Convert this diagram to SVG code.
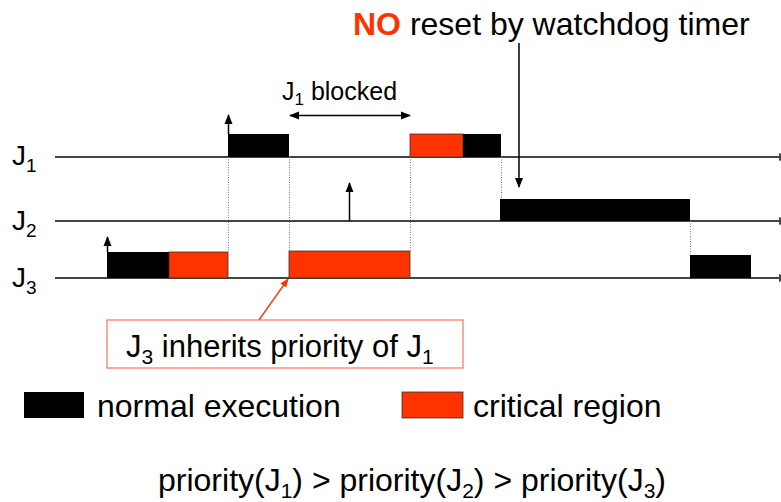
<svg xmlns="http://www.w3.org/2000/svg" width="781" height="502" viewBox="0 0 781 502">
<defs>
<style>
.t{font-family:"Liberation Sans",Arial,sans-serif;fill:#000}
.axis{stroke:#444;stroke-width:2}
.dot{stroke:#777;stroke-width:1;stroke-dasharray:1 1.5;fill:none}
.blk{fill:#000}
.red{fill:#ff3300;stroke:#333;stroke-width:0.8}
.arr{stroke:#000;stroke-width:1.5;fill:none}
</style>
<marker id="ah" viewBox="0 0 10 10" refX="9" refY="5" markerWidth="10" markerHeight="10" markerUnits="userSpaceOnUse" orient="auto">
<path d="M0,1 L10,5 L0,9 z" fill="#000"/>
</marker>
<marker id="ahs" viewBox="0 0 10 10" refX="1" refY="5" markerWidth="10" markerHeight="10" markerUnits="userSpaceOnUse" orient="auto">
<path d="M10,1 L0,5 L10,9 z" fill="#000"/>
</marker>
<marker id="ahr" viewBox="0 0 10 10" refX="9" refY="5" markerWidth="9" markerHeight="9" markerUnits="userSpaceOnUse" orient="auto">
<path d="M0,1 L10,5 L0,9 z" fill="#ff3300"/>
</marker>
</defs>
<rect width="781" height="502" fill="#fff"/>

<g id="axes">
<line class="axis" x1="55" y1="157" x2="781" y2="157"/>
<line class="axis" x1="55" y1="221" x2="781" y2="221"/>
<line class="axis" x1="55" y1="278" x2="781" y2="278"/>
<path d="M779,153 L789,157 L779,161 z M779,217 L789,221 L779,225 z M779,274 L789,278 L779,282 z" fill="#444"/>
</g>

<g id="labels">
<text class="t" x="12" y="165" font-size="28">J<tspan font-size="19" dy="7">1</tspan></text>
<text class="t" x="12" y="230" font-size="28">J<tspan font-size="19" dy="7">2</tspan></text>
<text class="t" x="12" y="287" font-size="28">J<tspan font-size="19" dy="7">3</tspan></text>
</g>

<g id="connectors">
<line class="dot" x1="228.5" y1="157" x2="228.5" y2="252"/>
<line class="dot" x1="289.5" y1="157" x2="289.5" y2="251"/>
<line class="dot" x1="410.5" y1="157" x2="410.5" y2="251"/>
<line class="dot" x1="501.5" y1="157" x2="501.5" y2="199"/>
<line class="dot" x1="690.5" y1="221" x2="690.5" y2="255"/>
<line class="arr" x1="228.5" y1="134" x2="228.5" y2="115" marker-end="url(#ah)"/>
<line class="arr" x1="107.5" y1="252" x2="107.5" y2="237" marker-end="url(#ah)"/>
<line class="arr" x1="349.5" y1="221" x2="349.5" y2="183" marker-end="url(#ah)"/>
<line class="arr" x1="290" y1="115.5" x2="410" y2="115.5" marker-start="url(#ahs)" marker-end="url(#ah)"/>
<line class="arr" x1="519" y1="43" x2="519" y2="187" marker-end="url(#ah)" stroke="#333"/>
<line x1="259" y1="320" x2="288" y2="279" stroke="#ff3300" stroke-width="1.3" marker-end="url(#ahr)"/>
</g>

<g id="J1">
<rect class="blk" x="228" y="134" width="61" height="23"/>
<rect class="red" x="410" y="134" width="53" height="23"/>
<rect class="blk" x="463" y="134" width="38" height="23"/>
</g>
<g id="J2">
<rect class="blk" x="500" y="199" width="190" height="22"/>
</g>
<g id="J3">
<rect class="blk" x="107" y="252" width="62" height="26"/>
<rect class="red" x="169" y="252" width="59" height="26"/>
<rect class="red" x="289" y="251" width="121" height="27"/>
<rect class="blk" x="690" y="255" width="61" height="23"/>
</g>

<g id="blocked-label">
<text class="t" x="282" y="100" font-size="25">J<tspan font-size="17" dy="5">1</tspan><tspan dy="-5"> blocked</tspan></text>
</g>

<g id="watchdog-label">
<text class="t" x="353" y="35" font-size="32"><tspan font-weight="bold" fill="#ff3300">NO</tspan> reset by watchdog timer</text>
</g>

<g id="inherit-note">
<rect x="107" y="320" width="356" height="48" fill="#fff" stroke="#f05a3c" stroke-width="1"/>
<text class="t" x="126" y="357" font-size="31">J<tspan font-size="21" dy="7">3</tspan><tspan dy="-7"> inherits priority of J</tspan><tspan font-size="21" dy="7">1</tspan></text>
</g>

<g id="legend">
<rect class="blk" x="24" y="392" width="60" height="26"/>
<text class="t" x="97" y="417" font-size="32">normal execution</text>
<rect class="red" x="402" y="392" width="61" height="26"/>
<text class="t" x="473" y="417" font-size="32">critical region</text>
</g>

<g id="priority">
<text class="t" x="158" y="491" font-size="32">priority(J<tspan font-size="21" dy="7">1</tspan><tspan dy="-7">) &gt; priority(J</tspan><tspan font-size="21" dy="7">2</tspan><tspan dy="-7">) &gt; priority(J</tspan><tspan font-size="21" dy="7">3</tspan><tspan dy="-7">)</tspan></text>
</g>
</svg>
